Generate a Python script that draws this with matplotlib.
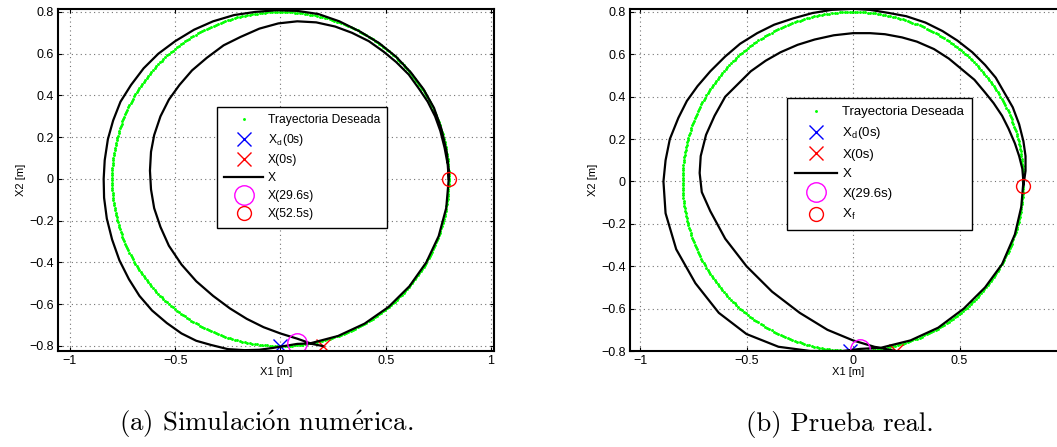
import numpy as np
import matplotlib.pyplot as plt

plt.rcParams['font.family'] = ['Liberation Sans', 'DejaVu Sans']
plt.rcParams['mathtext.fontset'] = 'cm'

# desired trajectory: circle
radio = 0.8
n_puntos = 420

# (a) simulation: trajectory X (x1, x2)
sim_tray = [
    (0.20, -0.80), (0.15, -0.79), (0.08, -0.765), (0.00, -0.74), (-0.08, -0.71),
    (-0.16, -0.67), (-0.24, -0.62), (-0.32, -0.56), (-0.40, -0.49), (-0.47, -0.41),
    (-0.53, -0.32), (-0.57, -0.23), (-0.60, -0.14), (-0.615, -0.05), (-0.62, 0.04),
    (-0.615, 0.13), (-0.60, 0.21), (-0.57, 0.30), (-0.53, 0.38), (-0.48, 0.45),
    (-0.42, 0.52), (-0.35, 0.58), (-0.27, 0.64), (-0.19, 0.68), (-0.10, 0.72),
    (-0.01, 0.745), (0.08, 0.755), (0.17, 0.75), (0.26, 0.73), (0.34, 0.70),
    (0.42, 0.66), (0.49, 0.61), (0.55, 0.56), (0.61, 0.50), (0.66, 0.43),
    (0.70, 0.37), (0.735, 0.30), (0.76, 0.23), (0.78, 0.15), (0.795, 0.07),
    (0.80, 0.00), (0.788, -0.139), (0.752, -0.274), (0.693, -0.40), (0.613, -0.514),
    (0.514, -0.613), (0.40, -0.693), (0.274, -0.752), (0.139, -0.788), (0.08, -0.79),
    (0.02, -0.80), (-0.04, -0.81), (-0.10, -0.818), (-0.17, -0.82), (-0.25, -0.815),
    (-0.33, -0.795), (-0.40, -0.775), (-0.47, -0.74), (-0.54, -0.69), (-0.61, -0.63),
    (-0.67, -0.56), (-0.72, -0.48), (-0.765, -0.39), (-0.80, -0.29), (-0.825, -0.19),
    (-0.838, -0.09), (-0.84, 0.00), (-0.835, 0.09), (-0.82, 0.19), (-0.795, 0.28),
    (-0.76, 0.37), (-0.71, 0.45), (-0.65, 0.53), (-0.58, 0.60), (-0.50, 0.66),
    (-0.41, 0.715), (-0.32, 0.755), (-0.22, 0.785), (-0.12, 0.80), (-0.02, 0.808),
    (0.08, 0.805), (0.18, 0.79), (0.28, 0.755), (0.38, 0.705), (0.47, 0.65),
    (0.55, 0.585), (0.62, 0.51), (0.68, 0.43), (0.73, 0.34), (0.765, 0.24),
    (0.79, 0.13), (0.80, 0.04), (0.80, 0.00),
]

# (b) real test: trajectory X (x1, x2)
real_tray = [
    (0.20, -0.80), (0.10, -0.78), (0.00, -0.75), (-0.12, -0.70), (-0.25, -0.62),
    (-0.38, -0.52), (-0.50, -0.40), (-0.60, -0.27), (-0.67, -0.14), (-0.71, -0.05),
    (-0.72, 0.04), (-0.715, 0.12), (-0.69, 0.22), (-0.65, 0.31), (-0.60, 0.40),
    (-0.54, 0.46), (-0.48, 0.52), (-0.41, 0.57), (-0.34, 0.61), (-0.26, 0.645),
    (-0.18, 0.67), (-0.09, 0.69), (0.00, 0.70), (0.08, 0.70), (0.15, 0.695),
    (0.23, 0.68), (0.30, 0.66), (0.38, 0.625), (0.45, 0.58), (0.51, 0.53),
    (0.57, 0.48), (0.62, 0.42), (0.66, 0.37), (0.70, 0.31), (0.73, 0.25),
    (0.76, 0.18), (0.78, 0.12), (0.795, 0.06), (0.80, 0.00), (0.79, -0.12),
    (0.76, -0.25), (0.70, -0.39), (0.62, -0.50), (0.52, -0.60), (0.40, -0.69),
    (0.27, -0.75), (0.13, -0.785), (0.035, -0.79), (-0.05, -0.80), (-0.20, -0.80),
    (-0.35, -0.78), (-0.50, -0.72), (-0.63, -0.62), (-0.74, -0.48), (-0.83, -0.32),
    (-0.88, -0.15), (-0.89, 0.00), (-0.88, 0.10), (-0.86, 0.20), (-0.82, 0.30),
    (-0.78, 0.38), (-0.73, 0.45), (-0.67, 0.52), (-0.60, 0.59), (-0.53, 0.65),
    (-0.45, 0.70), (-0.37, 0.74), (-0.28, 0.77), (-0.19, 0.795), (-0.10, 0.81),
    (0.00, 0.815), (0.08, 0.81), (0.17, 0.795), (0.25, 0.78), (0.34, 0.75),
    (0.42, 0.71), (0.49, 0.665), (0.56, 0.61), (0.62, 0.55), (0.67, 0.49),
    (0.71, 0.42), (0.75, 0.35), (0.78, 0.27), (0.80, 0.19), (0.81, 0.12),
    (0.81, 0.05), (0.80, -0.02),
]

# marked points (x1, x2)
sim_xd0 = (0.0, -0.80)
sim_x0 = (0.20, -0.80)
sim_x296 = (0.08, -0.785)
sim_x525 = (0.80, 0.0)
real_xd0 = (-0.015, -0.80)
real_x0 = (0.20, -0.80)
real_x296 = (0.035, -0.79)
real_xf = (0.80, -0.02)

ang = np.linspace(0, 2 * np.pi, n_puntos)
des_x1 = radio * np.cos(ang)
des_x2 = radio * np.sin(ang)

W, H = 1057, 447
fig = plt.figure(figsize=(W / 100, H / 100), dpi=100)


def panel(rect, xlim, ylim, xticks, tray, xd0, x0, x296, xend, lab_end, leg_pos, leg_fs, leg_sp):
    ax = fig.add_axes(rect)
    tx1, tx2 = zip(*tray)
    ax.plot(des_x1, des_x2, 'o', color='#00ff00', ms=2.1, mew=0, label='Trayectoria Deseada')
    ax.plot(*xd0, 'x', color='blue', ms=10, mew=1.0, label=r'X$_\mathregular{d}$(0s)')
    ax.plot(*x0, 'x', color='red', ms=10, mew=1.0, label='X(0s)')
    ax.plot(tx1, tx2, '-', color='black', lw=1.6, label='X')
    ax.plot(*x296, 'o', mfc='none', mec='magenta', ms=14, mew=1.0, label='X(29.6s)')
    ax.plot(*xend, 'o', mfc='none', mec='red', ms=10, mew=1.0, label=lab_end)
    ax.set_xlim(*xlim)
    ax.set_ylim(*ylim)
    ax.set_xticks(xticks)
    ax.set_xticklabels([('\u2212' if t < 0 else '') + ('%g' % abs(t)) for t in xticks])
    yt = np.round(np.arange(-0.8, 0.81, 0.2), 1)
    ax.set_yticks(yt)
    ax.set_yticklabels([('\u2212' if t < 0 else '') + ('%g' % abs(t)) for t in yt])
    ax.tick_params(direction='in', length=3, width=0.8, labelsize=9, pad=3,
                   top=True, right=True)
    ax.grid(True, color='0.45', linestyle=(0, (1, 3)), lw=0.8)
    for s in ax.spines.values():
        s.set_linewidth(1.5)
    ax.set_xlabel('X1 [m]', fontsize=8, labelpad=0)
    ax.set_ylabel('X2 [m]', fontsize=8, labelpad=2)
    leg = ax.legend(loc='upper left', bbox_to_anchor=leg_pos, bbox_transform=fig.transFigure,
                    borderaxespad=0, fontsize=leg_fs, numpoints=1, handlelength=3.2,
                    labelspacing=leg_sp, borderpad=0.6, handletextpad=0.4,
                    fancybox=False, edgecolor='black', framealpha=1)
    leg.get_frame().set_linewidth(1.0)
    return ax


panel([58 / W, 1 - 351 / H, 436 / W, 342 / H], (-1.057, 1.015), (-0.824, 0.814),
      [-1, -0.5, 0, 0.5, 1], sim_tray, sim_xd0, sim_x0, sim_x296, sim_x525, 'X(52.5s)',
      (217 / W, 1 - 107 / H), 8.7, 0.5)
panel([630 / W, 1 - 351 / H, 436 / W, 342 / H], (-1.047, 1.0), (-0.80, 0.814),
      [-1, -0.5, 0, 0.5], real_tray, real_xd0, real_x0, real_x296, real_xf, r'X$_\mathregular{f}$',
      (787 / W, 1 - 98 / H), 9.5, 0.55)

cap = dict(fontsize=19.3, family=['cmr10'], ha='center', va='center')
fig.text(266 / W, 1 - 424 / H, r'(a) Simulaci$\acute{\mathrm{o}}$n num$\acute{\mathrm{e}}$rica.', **cap)
fig.text(840 / W, 1 - 424 / H, '(b) Prueba real.', **cap)

fig.savefig('out.png', dpi=100)
